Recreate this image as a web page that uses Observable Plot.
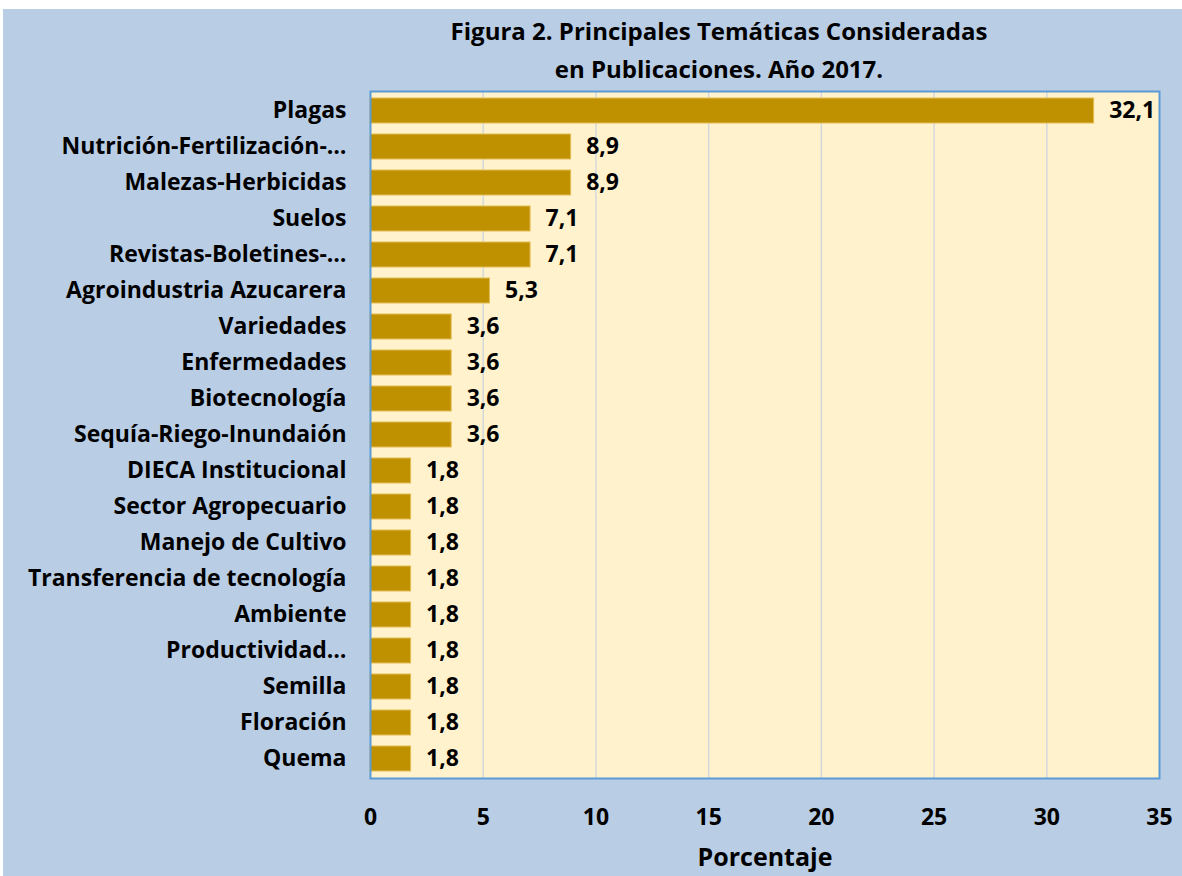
<!DOCTYPE html>
<html>
<head>
<meta charset="utf-8">
<script src="https://cdn.jsdelivr.net/npm/d3@7"></script>
<script src="https://cdn.jsdelivr.net/npm/@observablehq/plot@0.6"></script>
<style>
  html, body { margin: 0; padding: 0; background: #ffffff; }
  #wrap { position: absolute; left: 3px; top: 9px; width: 1179px; height: 867px; background: #b9cde5; overflow: hidden; }
  #title { position: absolute; left: 266px; width: 900px; top: 0; height: 78px; text-align: center;
           font-family: "Open Sans", sans-serif; font-weight: bold; font-size: 24px; line-height: 38px; color: #000; padding-top: 3px; box-sizing: border-box; }
  #chart { position: absolute; left: 0; top: 78px; }
</style>
</head>
<body>
<div id="wrap">
  <div id="title">Figura 2. Principales Temáticas Consideradas<br>en Publicaciones. Año 2017.</div>
  <div id="chart"></div>
</div>
<script>
const categories = [
  "Plagas", "Nutrición-Fertilización-…", "Malezas-Herbicidas", "Suelos", "Revistas-Boletines-…",
  "Agroindustria Azucarera", "Variedades", "Enfermedades", "Biotecnología", "Sequía-Riego-Inundaión",
  "DIECA Institucional", "Sector Agropecuario", "Manejo de Cultivo", "Transferencia de tecnología",
  "Ambiente", "Productividad…", "Semilla", "Floración", "Quema"
];
const values = [32.1, 8.9, 8.9, 7.1, 7.1, 5.3, 3.6, 3.6, 3.6, 3.6, 1.8, 1.8, 1.8, 1.8, 1.8, 1.8, 1.8, 1.8, 1.8];
const xTicks = [0, 5, 10, 15, 20, 25, 30, 35];
const gridTicks = [5, 10, 15, 20, 25, 30];

const data = categories.map((c, i) => ({category: c, value: values[i]}));
const fmt = v => v.toFixed(1).replace(".", ",");

const chart = Plot.plot({
  width: 1179,
  height: 789,
  marginTop: 4,
  marginBottom: 98,
  marginLeft: 367,
  marginRight: 23,
  style: {fontFamily: '"Open Sans", sans-serif', fontWeight: "bold", fontSize: "23px", color: "#000", background: "transparent", overflow: "visible"},
  x: {domain: [0, 35], ticks: xTicks, label: null},
  y: {domain: categories, paddingInner: 0.3, paddingOuter: 0.15, label: null},
  marks: [
    Plot.frame({fill: "#fff2cc", stroke: null}),
    Plot.ruleX(gridTicks, {stroke: "#d4d8dd", strokeWidth: 1.5}),
    Plot.barX(data, {x: "value", y: "category", fill: "#bf9000", stroke: "#e3bd55", strokeWidth: 1}),
    Plot.text(data, {x: "value", y: "category", text: d => fmt(d.value), textAnchor: "start", dx: 15, fontSize: 23, fontWeight: "bold", fill: "#000"}),
    Plot.frame({stroke: "#5b9bd5", strokeWidth: 2, fill: null}),
    Plot.axisX(xTicks, {tickSize: 0, tickPadding: 30, fontSize: 23, fontWeight: "bold", label: null, tickFormat: d => String(d)}),
    Plot.axisY({tickSize: 0, tickPadding: 24, fontSize: 23, fontWeight: "bold", label: null}),
    Plot.text(["Porcentaje"], {frameAnchor: "bottom", x: 17.5, dy: 87, fontSize: 25, fontWeight: "bold", fill: "#000"})
  ]
});
document.getElementById("chart").appendChild(chart);
</script>
</body>
</html>
